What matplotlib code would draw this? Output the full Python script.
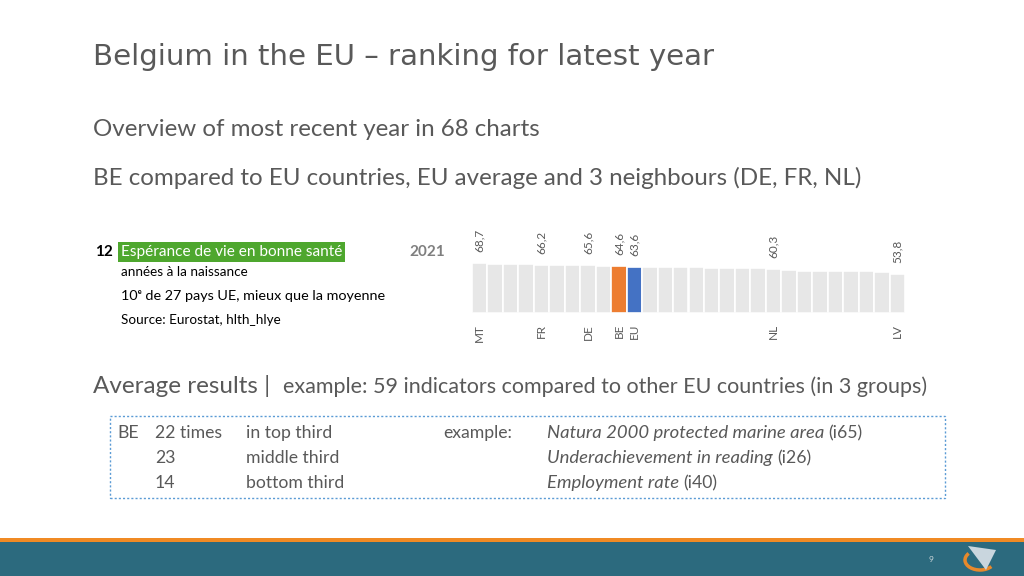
import matplotlib
matplotlib.use('Agg')
import matplotlib.pyplot as plt
from matplotlib.patches import Rectangle, Arc, Polygon

# data for the small ranking chart (healthy life years, 2021)
countries = ['MT', '', '', '', 'FR', '', '', 'DE', '', 'BE', 'EU', '', '', '', '',
             '', '', '', '', 'NL', '', '', '', '', '', '', '', 'LV']
values = [68.7, 68.0, 67.6, 67.2, 66.2, 66.0, 65.8, 65.6, 65.0, 64.6, 63.6, 63.4,
          63.2, 63.0, 62.7, 62.5, 62.3, 61.8, 61.3, 60.3, 58.4, 58.2, 58.0, 57.8,
          57.5, 57.2, 56.9, 53.8]
labelled = ['MT', 'FR', 'DE', 'BE', 'EU', 'NL', 'LV']

rows_count = ['22 times', '23', '14']
rows_group = ['in top third', 'middle third', 'bottom third']
rows_example = ['Natura 2000 protected marine area', 'Underachievement in reading', 'Employment rate']
rows_code = ['(i65)', '(i26)', '(i40)']

W, H = 1024, 576
fig = plt.figure(figsize=(W / 100, H / 100), dpi=100)
fig.patch.set_facecolor('white')

body = ['Lato', 'DejaVu Sans']
grey = '#595959'


def fx(x):
    return x / W


def fy(y):
    return 1 - y / H


def txt(x, y, s, **kw):
    kw.setdefault('family', body)
    kw.setdefault('color', grey)
    kw.setdefault('va', 'center')
    return fig.text(fx(x), fy(y), s, **kw)


# title and subtitles
txt(93, 57, 'Belgium in the EU \u2013 ranking for latest year', size=21.1, family='DejaVu Sans')
txt(93, 130, 'Overview of most recent year in 68 charts', size=17.4)
txt(93, 178, 'BE compared to EU countries, EU average and 3 neighbours (DE, FR, NL)', size=17.4)

# indicator block
txt(95, 252, '12', size=11, weight='bold', color='black')
txt(121, 252, 'Esp\u00e9rance de vie en bonne sant\u00e9', size=11.1, color='white',
    bbox=dict(boxstyle='square,pad=0.2', fc='#4ea72e', ec='none'))
txt(409, 252, '2021', size=11, weight='bold', color='#7f7f7f')
txt(121, 272, 'ann\u00e9es \u00e0 la naissance', size=9.7, color='black')
txt(121, 296, '10\u1d49 de 27 pays UE, mieux que la moyenne', size=10.4, color='black')
txt(121, 320, 'Source: Eurostat, hlth_hlye', size=9.7, color='black')

# bar chart
ax = fig.add_axes([fx(472), fy(313), fx(905) - fx(472), 65.5 / H])
colors = []
for c in countries:
    if c == 'BE':
        colors.append('#ed7d31')
    elif c == 'EU':
        colors.append('#4472c4')
    else:
        colors.append('#e7e7e7')
x = list(range(len(values)))
ax.bar(x, values, width=1.0, color=colors, edgecolor='white', linewidth=1.2)
ax.set_xlim(-0.5, len(values) - 0.5)
ax.set_ylim(0, 90)
for i, (c, v) in enumerate(zip(countries, values)):
    if c in labelled:
        ax.annotate(f'{v:.1f}'.replace('.', ','), (i, v), xytext=(0, 8),
                    textcoords='offset points', rotation=90, ha='center', va='bottom',
                    size=8.5, color=grey, family=body)
ax.set_xticks([i for i, c in enumerate(countries) if c])
ax.set_xticklabels([c for c in countries if c], rotation=90, size=8.5, color=grey, family=body)
ax.tick_params(axis='x', length=0, pad=8)
ax.set_yticks([])
for s in ax.spines.values():
    s.set_visible(False)
ax.axhline(0, color='#d9d9d9', lw=0.8)
ax.patch.set_alpha(0)

# average results
txt(93, 386, 'Average results |', size=17.5)
txt(283, 387, 'example: 59 indicators compared to other EU countries (in 3 groups)', size=15.5)

fig.patches.append(Rectangle((fx(110), fy(498)), fx(945) - fx(110), (498 - 416) / H,
                             transform=fig.transFigure, fill=False, ec='#5b9bd5',
                             lw=1, ls=(0, (1.5, 1.5)), zorder=-1))

fig.canvas.draw()
renderer = fig.canvas.get_renderer()
ys = [433, 458, 483]
tsize = 12.7
txt(117, ys[0], 'BE', size=tsize)
txt(443, ys[0], 'example:', size=tsize)
for y, n, g, e, code in zip(ys, rows_count, rows_group, rows_example, rows_code):
    txt(155, y, n, size=tsize)
    txt(246, y, g, size=tsize)
    t = txt(547, y, e, size=13.3, style='italic')
    bb = t.get_window_extent(renderer)
    fig.text(bb.x1 / W + 4 / W, fy(y), code, size=tsize, color=grey, family=body, va='center')

# footer
fig.patches.append(Rectangle((0, 0), 1, (576 - 542) / H, transform=fig.transFigure,
                             fc='#2c6a7e', ec='none', zorder=-1))
fig.patches.append(Rectangle((0, fy(542)), 1, 4 / H, transform=fig.transFigure,
                             fc='#f08a24', ec='none', zorder=-1))
txt(931, 559, '9', size=6, color='#cfd8dc', ha='center')

lax = fig.add_axes([fx(960), fy(574), 40 / W, 32 / H], zorder=5)
lax.set_xlim(0, 40)
lax.set_ylim(0, 32)
lax.axis('off')
lax.add_patch(Arc((20, 14), 30, 20, theta1=150, theta2=330, color='#e8892b', lw=2.5))
lax.add_patch(Polygon([[8, 28], [36, 24], [26, 4]], closed=True, fc='#c9d6de', ec='none'))

fig.savefig('out.png', dpi=100)
